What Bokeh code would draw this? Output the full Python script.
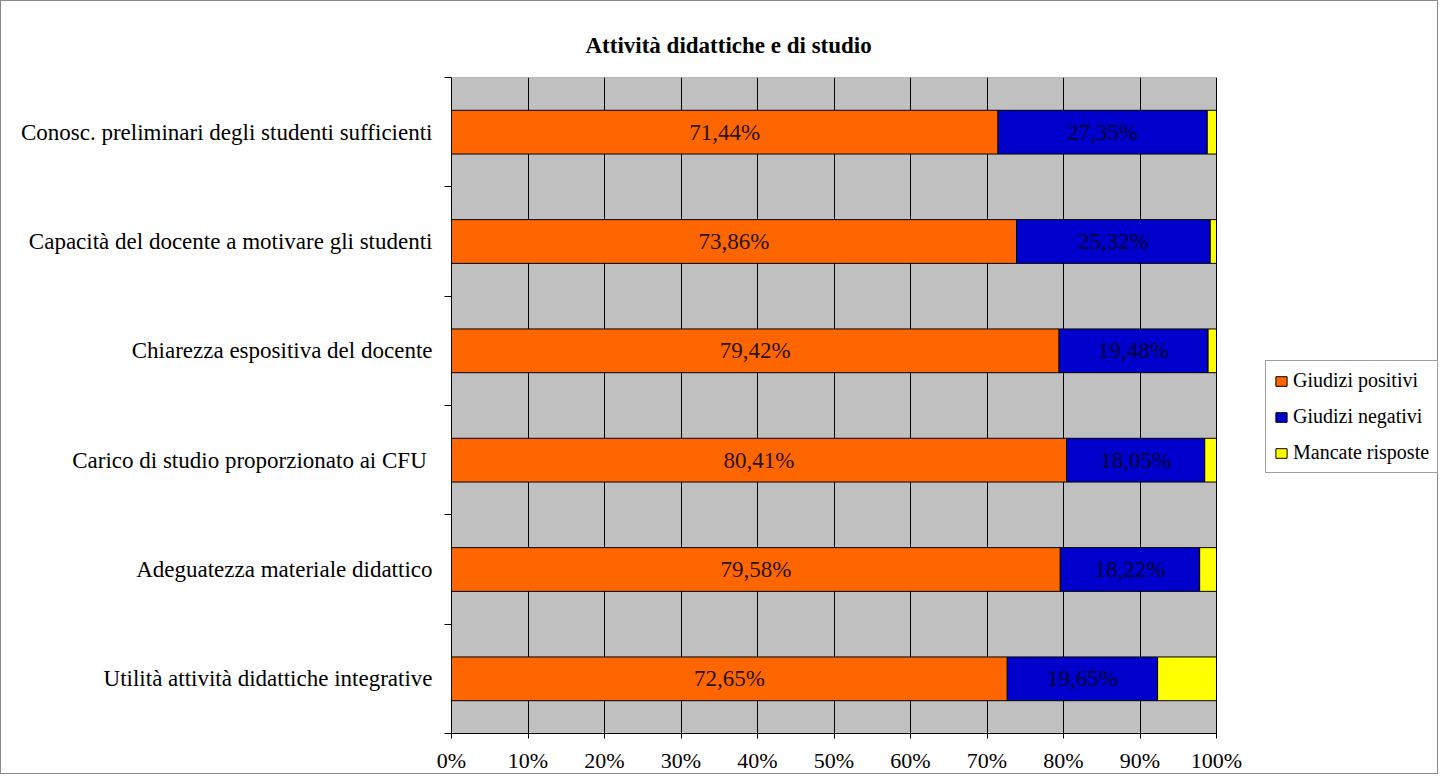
from bokeh.plotting import figure
from bokeh.models import (ColumnDataSource, Range1d, FixedTicker, PrintfTickFormatter,
                          Legend, LegendItem, Title)
from bokeh.embed import file_html
from bokeh.resources import INLINE
from bokeh.core.properties import value

title_text = "Attività didattiche e di studio"
categories = [
    "Conosc. preliminari degli studenti sufficienti",
    "Capacità del docente a motivare gli studenti",
    "Chiarezza espositiva del docente",
    "Carico di studio proporzionato  ai CFU",
    "Adeguatezza materiale didattico",
    "Utilità attività didattiche integrative",
]
positivi = [71.44, 73.86, 79.42, 80.41, 79.58, 72.65]
negativi = [27.35, 25.32, 19.48, 18.05, 18.22, 19.65]
mancate = [1.21, 0.82, 1.10, 1.54, 2.20, 7.70]
series_names = ["Giudizi positivi", "Giudizi negativi", "Mancate risposte"]
series_colors = ["#FF6600", "#0000CC", "#FFFF00"]
x_ticks = [0, 10, 20, 30, 40, 50, 60, 70, 80, 90, 100]

FONT = "Liberation Serif"

n = len(categories)
ys = [n - 0.5 - i for i in range(n)]
x_lo, x_hi = x_ticks[0], x_ticks[-1]

# layout (pixels)
W, H = 1438, 774
BL, BT, BB = 450, 76, 40
PLOT_PX = 765                     # pixel width of the 0..100% area
frame_px = W - BL
x_end = x_lo + (x_hi - x_lo) * frame_px / PLOT_PX

p_left = [0.0] * n
p_right = positivi
n_left = positivi
n_right = [a + b for a, b in zip(positivi, negativi)]
m_left = n_right
m_right = [a + b for a, b in zip(n_right, mancate)]

src = ColumnDataSource(dict(
    y=ys,
    p_left=p_left, p_right=p_right,
    n_left=n_left, n_right=n_right,
    m_left=m_left, m_right=m_right,
    p_mid=[(a + b) / 2 for a, b in zip(p_left, p_right)],
    n_mid=[(a + b) / 2 for a, b in zip(n_left, n_right)],
    p_lab=[("%.2f%%" % v).replace(".", ",") for v in positivi],
    n_lab=[("%.2f%%" % v).replace(".", ",") for v in negativi],
))

p = figure(width=W, height=H, output_backend="svg", toolbar_location=None,
           x_range=Range1d(x_lo, x_end), y_range=Range1d(0, n),
           min_border_left=BL, min_border_right=0, min_border_top=BT, min_border_bottom=BB,
           background_fill_color="white", border_fill_color="white")
p.styles = {"border": "1px solid #8a8a8a"}
p.outline_line_color = None

p.title = Title(text=title_text, align="left", offset=134, text_font=FONT,
                text_font_size="23px", text_font_style="bold", text_color="black", standoff=40)

# plot area background (0..100%)
bg = p.quad(left=[x_lo], right=[x_hi], bottom=[0], top=[n],
            fill_color="#C0C0C0", line_color="#808080", line_width=1)
bg.level = "image"

bh = 0.4
r1 = p.hbar(y="y", left="p_left", right="p_right", height=bh, source=src,
            fill_color=series_colors[0], line_color="black", line_width=1)
r2 = p.hbar(y="y", left="n_left", right="n_right", height=bh, source=src,
            fill_color=series_colors[1], line_color="black", line_width=1)
r3 = p.hbar(y="y", left="m_left", right="m_right", height=bh, source=src,
            fill_color=series_colors[2], line_color="black", line_width=1)

p.text(x="p_mid", y="y", text="p_lab", source=src, text_align="center", text_baseline="middle",
       text_font=value(FONT), text_font_size="23px", text_color="#2a1200")
p.text(x="n_mid", y="y", text="n_lab", source=src, text_align="center", text_baseline="middle",
       text_font=value(FONT), text_font_size="23px", text_color="#000033")

# grid
p.xgrid.ticker = FixedTicker(ticks=x_ticks)
p.xgrid.grid_line_color = "black"
p.xgrid.grid_line_width = 1
p.xgrid.bounds = (x_lo, x_hi)
p.ygrid.grid_line_color = None

# x axis
xa = p.xaxis[0]
xa.ticker = FixedTicker(ticks=x_ticks)
xa.formatter = PrintfTickFormatter(format="%d%%")
xa.bounds = (x_lo, x_hi)
xa.axis_line_color = "black"
xa.major_tick_line_color = "black"
xa.major_tick_out = 5
xa.major_tick_in = 0
xa.minor_tick_line_color = None
xa.major_label_text_font = FONT
xa.major_label_text_font_size = "22px"
xa.major_label_text_color = "black"
xa.major_label_standoff = 9

# y axis
ya = p.yaxis[0]
ya.ticker = FixedTicker(ticks=ys, minor_ticks=list(range(n + 1)))
ya.major_label_overrides = {y: c for y, c in zip(ys, categories)}
ya.axis_line_color = "black"
ya.major_tick_line_color = None
ya.major_tick_out = 0
ya.major_tick_in = 0
ya.minor_tick_line_color = "black"
ya.minor_tick_out = 7
ya.minor_tick_in = 0
ya.major_label_text_font = FONT
ya.major_label_text_font_size = "23px"
ya.major_label_text_color = "black"
ya.major_label_standoff = 12

legend = Legend(items=[LegendItem(label=nm, renderers=[r]) for nm, r in zip(series_names, [r1, r2, r3])],
                location=(814, 260))
legend.label_text_font = FONT
legend.label_text_font_size = "20px"
legend.label_text_color = "black"
legend.glyph_width = 14
legend.glyph_height = 12
legend.label_height = 20
legend.label_standoff = 5
legend.spacing = 13
legend.padding = 8
legend.margin = 0
legend.border_line_color = "#404040"
legend.border_line_width = 1
legend.background_fill_color = "white"
legend.background_fill_alpha = 1
p.add_layout(legend, "center")

open("out.html", "w").write(file_html(p, INLINE))
